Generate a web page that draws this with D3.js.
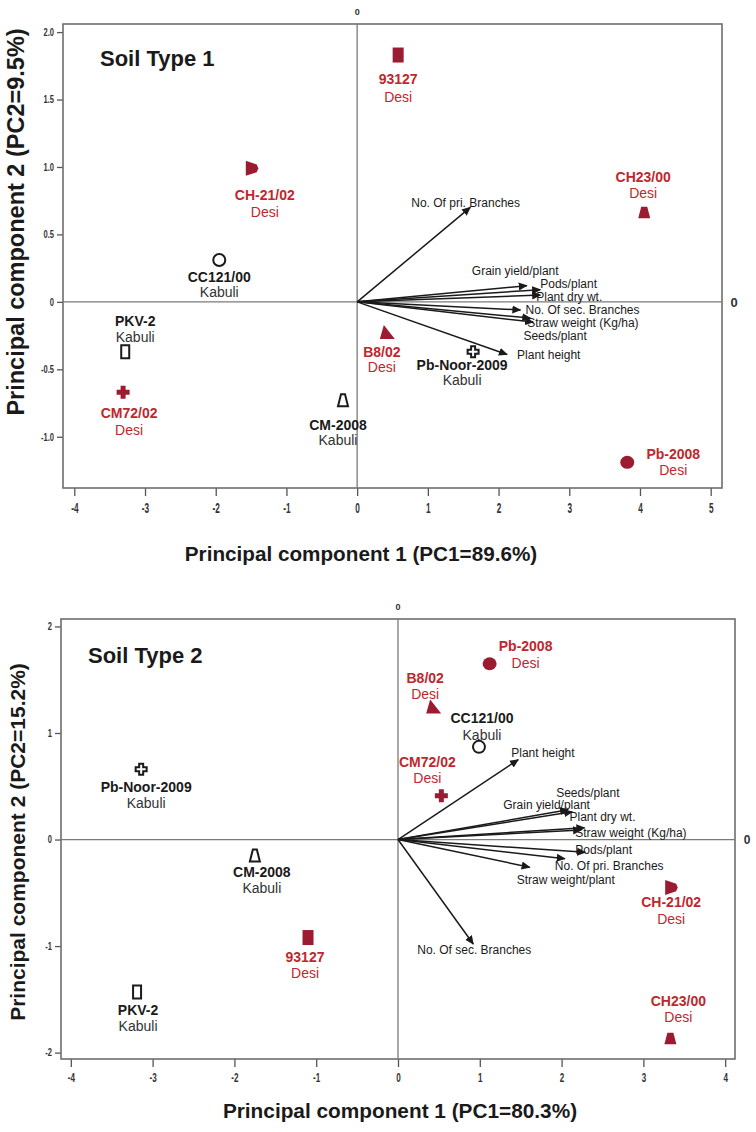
<!DOCTYPE html>
<html><head><meta charset="utf-8">
<script src="https://cdn.jsdelivr.net/npm/d3@7"></script>
<style>
html,body{margin:0;padding:0;background:#fff;}
svg{display:block;}
</style></head>
<body>
<svg id="chart" width="756" height="1132"></svg>
<script>
// ---------- DATA ----------
const genotypes = ["93127","CH-21/02","CC121/00","PKV-2","CM72/02","CM-2008","B8/02","Pb-Noor-2009","CH23/00","Pb-2008"];
const genoTypes = ["Desi","Desi","Kabuli","Kabuli","Desi","Kabuli","Desi","Kabuli","Desi","Desi"];

const soil1PC1 = [0.58,-1.49,-1.95,-3.28,-3.31,-0.20,0.42,1.64,4.06,3.82];
const soil1PC2 = [1.83,0.99,0.31,-0.37,-0.67,-0.73,-0.23,-0.37,0.66,-1.19];
const soil2PC1 = [-1.10,3.34,0.99,-3.19,0.53,-1.75,0.43,-3.14,3.33,1.12];
const soil2PC2 = [-0.92,-0.45,0.87,-1.43,0.41,-0.15,1.24,0.66,-1.87,1.65];

const vars1 = ["No. Of pri. Branches","Grain yield/plant","Pods/plant","Plant dry wt.","No. Of sec. Branches","Straw weight (Kg/ha)","Seeds/plant","Plant height"];
const vars1PC1 = [1.60,2.40,2.59,2.59,2.31,2.49,2.45,2.12];
const vars1PC2 = [0.70,0.12,0.09,0.05,-0.06,-0.15,-0.12,-0.39];

const vars2 = ["Plant height","Seeds/plant","Grain yield/plant","Plant dry wt.","Straw weight (Kg/ha)","Pods/plant","No. Of pri. Branches","Straw weight/plant","No. Of sec. Branches"];
const vars2PC1 = [1.47,2.08,2.13,2.28,2.24,2.29,2.04,1.61,0.92];
const vars2PC2 = [0.75,0.28,0.26,0.11,0.09,-0.12,-0.18,-0.26,-0.98];

const xTicks1 = [-4,-3,-2,-1,0,1,2,3,4,5];
const xTickLabels1 = ["-4","-3","-2","-1","0","1","2","3","4","5"];
const yTicks1 = [2.0,1.5,1.0,0.5,0,-0.5,-1.0];
const yTickLabels1 = ["2.0","1.5","1.0","0.5","0","-0.5","-1.0"];
const xTicks2 = [-4,-3,-2,-1,0,1,2,3,4];
const xTickLabels2 = ["-4","-3","-2","-1","0","1","2","3","4"];
const yTicks2 = [2,1,0,-1,-2];
const yTickLabels2 = ["2","1","0","-1","-2"];

// ---------- LAYOUT ----------
const RED = "#c0272d", MARK = "#9b1b30";
const SANS = "'Liberation Sans',Arial,sans-serif";
const shapeOf = {"93127":"rectF","CH-21/02":"flag","CC121/00":"circO","PKV-2":"rectO","CM72/02":"plusF","CM-2008":"trapO","B8/02":"triF","Pb-Noor-2009":"plusO","CH23/00":"trapF","Pb-2008":"ellF"};

const panels = [
  {title:"Soil Type 1", frame:{l:63,r:722,t:24,b:488}, xd:[-4.16,5.16], yd:[-1.38,2.06],
   pc1:soil1PC1, pc2:soil1PC2, vars:vars1, v1:vars1PC1, v2:vars1PC2,
   xTicks:xTicks1, xTickLabels:xTickLabels1, yTicks:yTicks1, yTickLabels:yTickLabels1,
   xTickFont:[15,0.55], yTickFont:[10.5,0.72], topZero:9, rightZero:13,
   xTitle:"Principal component 1 (PC1=89.6%)", yTitle:"Principal component 2 (PC2=9.5%)",
   xTitleFont:20.7, yTitleFont:23.5, xTitleX:361, xTitleY:561, yTitleX:24, yTitleY:222, titleX:100, titleY:66,
   gl:{"93127":[0,24,42],"CH-21/02":[13,27,44],"CC121/00":[0,17,32],"PKV-2":[10,-31,-15],"CM72/02":[6,21,38],
       "CM-2008":[-5,25,40],"B8/02":[-5,19,34],"Pb-Noor-2009":[-11,13,28],"CH23/00":[-1,-36,-20],"Pb-2008":[46,-8,8]},
   vl:{"No. Of pri. Branches":[-59,-5],"Grain yield/plant":[-55,-15],"Pods/plant":[0,-6],"Plant dry wt.":[-4,2],
       "No. Of sec. Branches":[5,0],"Straw weight (Kg/ha)":[-6,1],"Seeds/plant":[-7,18],"Plant height":[10,0]}
  },
  {title:"Soil Type 2", frame:{l:61,r:735,t:619,b:1059}, xd:[-4.12,4.12], yd:[-2.06,2.07],
   pc1:soil2PC1, pc2:soil2PC2, vars:vars2, v1:vars2PC1, v2:vars2PC2,
   xTicks:xTicks2, xTickLabels:xTickLabels2, yTicks:yTicks2, yTickLabels:yTickLabels2,
   xTickFont:[12.5,0.65], yTickFont:[10,0.75], topZero:9, rightZero:12,
   xTitle:"Principal component 1 (PC1=80.3%)", yTitle:"Principal component 2 (PC2=15.2%)",
   xTitleFont:20.8, yTitleFont:21, xTitleX:400, xTitleY:1118, yTitleX:25, yTitleY:842, titleX:88, titleY:663,
   gl:{"93127":[-3,20,36],"CH-21/02":[0,15,32],"CC121/00":[3,-29,-12],"PKV-2":[1,18,34],"CM72/02":[-14,-34,-18],
       "CM-2008":[7,17,33],"B8/02":[-8,-29,-13],"Pb-Noor-2009":[5,18,34],"CH23/00":[8,-38,-22],"Pb-2008":[36,-18,-1]},
   vl:{"Plant height":[-7,-7],"Seeds/plant":[-12,-17],"Grain yield/plant":[-69,-7],"Plant dry wt.":[-15,-11],
       "Straw weight (Kg/ha)":[-6,3],"Pods/plant":[-10,-3],"No. Of pri. Branches":[-10,7],"Straw weight/plant":[-13,13],
       "No. Of sec. Branches":[-56,6]}
  }
];

const svg = d3.select("#chart");
const defs = svg.append("defs");
defs.append("marker").attr("id","ah").attr("viewBox","0 0 10 10").attr("refX",9).attr("refY",5)
  .attr("markerWidth",9).attr("markerHeight",9).attr("markerUnits","userSpaceOnUse").attr("orient","auto")
  .append("path").attr("d","M0,0.5 L10,5 L0,9.5 Z").attr("fill","#1a1a1a");

function shapePath(s){
  switch(s){
    case "rectF": return "M-5.5,-7.5H5.5V7.5H-5.5Z";
    case "rectO": return "M-4,-6.5H4V6.5H-4Z";
    case "flag": return "M-6,-7.5L5,-3.8L6.5,0L5,3.8L-6,7.5Z";
    case "trapO": return "M-2,-6H2L5,6H-5Z";
    case "trapF": return "M-3,-6H3L6,5.5H-6Z";
    case "triF": return "M-3,-8L8,6H-7Z";
    case "plusF": return "M-2.5,-6.5H2.5V-2.5H6.5V2.5H2.5V6.5H-2.5V2.5H-6.5V-2.5H-2.5Z";
    case "plusO": return "M-2,-5.5H2V-2H5.5V2H2V5.5H-2V2H-5.5V-2H-2Z";
  }
  return null;
}

panels.forEach(p => {
  const f = p.frame;
  const x = d3.scaleLinear().domain(p.xd).range([f.l,f.r]);
  const y = d3.scaleLinear().domain(p.yd).range([f.b,f.t]);
  const g = svg.append("g");

  // axes
  const xa = g.append("g").attr("transform",`translate(0,${f.b})`)
    .call(d3.axisBottom(x).tickValues(p.xTicks).tickSize(8).tickPadding(6).tickFormat((d,i)=>p.xTickLabels[i]));
  const ya = g.append("g").attr("transform",`translate(${f.l},0)`)
    .call(d3.axisLeft(y).tickValues(p.yTicks).tickSize(6).tickPadding(3).tickFormat((d,i)=>p.yTickLabels[i]));
  [xa,ya].forEach(a=>{
    a.select(".domain").remove();
    a.selectAll(".tick line").attr("stroke","#555").attr("stroke-width",1.3);
  });
  xa.selectAll(".tick text").attr("fill","#333").style("font-family",SANS).style("font-weight","bold")
    .style("font-size",p.xTickFont[0]+"px").attr("transform",`scale(${p.xTickFont[1]},1)`);
  ya.selectAll(".tick text").attr("fill","#333").style("font-family",SANS).style("font-weight","bold")
    .style("font-size",p.yTickFont[0]+"px").attr("x",-9/p.yTickFont[1]).attr("transform",`scale(${p.yTickFont[1]},1)`);

  // frame
  g.append("rect").attr("x",f.l).attr("y",f.t).attr("width",f.r-f.l).attr("height",f.b-f.t)
    .attr("fill","none").attr("stroke","#6d6d6d").attr("stroke-width",1.6);
  // zero lines
  g.append("line").attr("x1",x(0)).attr("x2",x(0)).attr("y1",f.t).attr("y2",f.b).attr("stroke","#7a7a7a").attr("stroke-width",1.3);
  g.append("line").attr("x1",f.l).attr("x2",f.r).attr("y1",y(0)).attr("y2",y(0)).attr("stroke","#7a7a7a").attr("stroke-width",1.3);
  g.append("text").attr("x",x(0)).attr("y",f.t-9).attr("text-anchor","middle")
    .style("font-family",SANS).style("font-size",p.topZero+"px").style("font-weight","bold").attr("fill","#333").text("0");
  g.append("text").attr("x",f.r+12).attr("y",y(0)).attr("dy","0.36em").attr("text-anchor","middle")
    .style("font-family",SANS).style("font-size",p.rightZero+"px").style("font-weight","bold").attr("fill","#333").text("0");

  // titles
  g.append("text").attr("x",p.titleX).attr("y",p.titleY).style("font-family",SANS)
    .style("font-size","22px").style("font-weight","bold").attr("fill","#1a1a1a").text(p.title);
  g.append("text").attr("x",p.xTitleX).attr("y",p.xTitleY).attr("text-anchor","middle")
    .style("font-family",SANS).style("font-size",p.xTitleFont+"px").style("font-weight","bold")
    .attr("fill","#1a1a1a").text(p.xTitle);
  g.append("text").attr("transform",`translate(${p.yTitleX},${p.yTitleY}) rotate(-90)`).attr("text-anchor","middle")
    .style("font-family",SANS).style("font-size",p.yTitleFont+"px").style("font-weight","bold")
    .attr("fill","#1a1a1a").text(p.yTitle);

  // variable arrows
  p.vars.forEach((v,i)=>{
    g.append("line").attr("x1",x(0)).attr("y1",y(0)).attr("x2",x(p.v1[i])).attr("y2",y(p.v2[i]))
      .attr("stroke","#1a1a1a").attr("stroke-width",1.5).attr("marker-end","url(#ah)");
  });
  p.vars.forEach((v,i)=>{
    const o = p.vl[v];
    g.append("text").attr("x",x(p.v1[i])+o[0]).attr("y",y(p.v2[i])+o[1]).attr("dy","0.35em")
      .style("font-family",SANS).style("font-size","12px").attr("fill","#1a1a1a").text(v);
  });

  // genotype markers
  genotypes.forEach((gname,i)=>{
    const cx = x(p.pc1[i]), cy = y(p.pc2[i]);
    const s = shapeOf[gname];
    const filled = s.endsWith("F") || s==="flag";
    let m;
    if (s==="circO") m = g.append("circle").attr("r",6);
    else if (s==="ellF") m = g.append("ellipse").attr("rx",7).attr("ry",6.5);
    else m = g.append("path").attr("d",shapePath(s));
    m.attr("transform",`translate(${cx},${cy})`);
    if (filled) m.attr("fill",MARK).attr("stroke","none");
    else m.attr("fill","#fff").attr("stroke","#1a1a1a").attr("stroke-width",2);

    const o = p.gl[gname];
    const isDesi = genoTypes[i]==="Desi";
    g.append("text").attr("x",cx+o[0]).attr("y",cy+o[1]).attr("dy","0.35em").attr("text-anchor","middle")
      .style("font-family",SANS).style("font-size","14px").style("font-weight","bold")
      .attr("fill",isDesi?RED:"#1a1a1a").text(gname);
    g.append("text").attr("x",cx+o[0]).attr("y",cy+o[2]).attr("dy","0.35em").attr("text-anchor","middle")
      .style("font-family",SANS).style("font-size","14px")
      .attr("fill",isDesi?RED:"#333").text(genoTypes[i]);
  });
});
</script>
</body></html>
